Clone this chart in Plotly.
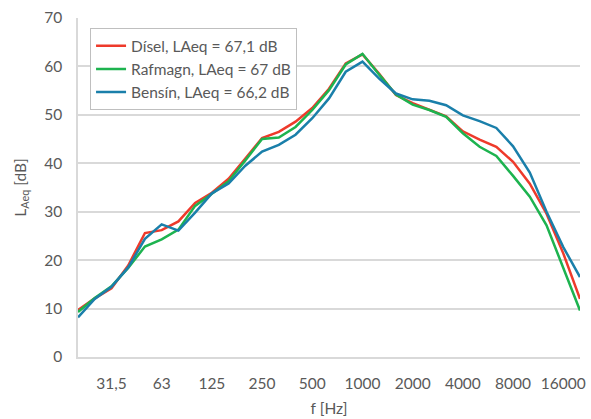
import plotly.graph_objects as go

freqs = ["20", "25", "31,5", "40", "50", "63", "80", "100", "125", "160", "200", "250",
         "315", "400", "500", "630", "800", "1000", "1250", "1600", "2000", "2500",
         "3150", "4000", "5000", "6300", "8000", "10000", "12500", "16000", "20000"]

disel = [9.7, 12.1, 14.2, 18.9, 25.6, 26.2, 28.0, 31.8, 33.9, 36.8, 41.0, 45.2, 46.5, 48.6,
         51.4, 55.4, 60.6, 62.5, 58.5, 54.1, 52.4, 51.0, 49.7, 46.6, 44.9, 43.4, 40.3, 35.8,
         29.6, 21.4, 12.0]
rafmagn = [9.3, 12.2, 14.6, 18.4, 22.8, 24.3, 26.3, 31.2, 33.7, 36.3, 40.6, 45.0, 45.3, 47.5,
           51.0, 55.1, 60.4, 62.6, 58.3, 54.2, 52.1, 51.0, 49.6, 46.2, 43.4, 41.5, 37.4, 33.1,
           27.2, 18.6, 9.6]
bensin = [8.2, 12.0, 14.5, 18.5, 24.4, 27.4, 26.1, 29.8, 33.8, 35.8, 39.5, 42.4, 43.8, 45.9,
          49.3, 53.4, 58.9, 61.0, 57.5, 54.4, 53.2, 52.9, 52.0, 49.9, 48.7, 47.3, 43.5, 38.1,
          30.0, 22.7, 16.5]

series_names = ["Dísel, LAeq = 67,1 dB", "Rafmagn, LAeq = 67 dB", "Bensín, LAeq = 66,2 dB"]
tick_labels = ["31,5", "63", "125", "250", "500", "1000", "2000", "4000", "8000", "16000"]

colors = ["#EE3A2B", "#1DB34F", "#1A7FAA"]
xidx = list(range(len(freqs)))

fig = go.Figure()
for name, vals, c in zip(series_names, [disel, rafmagn, bensin], colors):
    fig.add_trace(go.Scatter(x=xidx, y=vals, mode="lines", name=name,
                             line=dict(color=c, width=2.5),
                             customdata=freqs, hovertemplate="%{customdata} Hz: %{y} dB"))

tickvals = [freqs.index(t) for t in tick_labels]
font_family = "Lato, Carlito, Calibri, 'Open Sans', sans-serif"
fs = 15.5

fig.update_layout(
    width=591, height=419,
    margin=dict(l=78, r=11, t=18, b=62),
    paper_bgcolor="white", plot_bgcolor="white",
    font=dict(family=font_family, size=fs, color="#595959"),
    showlegend=True,
    legend=dict(x=0.024, y=0.97, xanchor="left", yanchor="top",
                bordercolor="#BFBFBF", borderwidth=1, bgcolor="white",
                font=dict(size=fs, color="#595959"), tracegroupgap=0),
    xaxis=dict(range=[0, len(freqs) - 1], tickmode="array", tickvals=tickvals,
               ticktext=tick_labels, showgrid=False, zeroline=False,
               showline=True, linecolor="#D9D9D9", linewidth=1.5,
               ticks="", ticklen=0, ticklabelstandoff=12, automargin=False,
               title=dict(text="f [Hz]", standoff=12, font=dict(size=fs, color="#595959"))),
    yaxis=dict(range=[0, 70], dtick=10, showgrid=True, gridcolor="#D9D9D9", gridwidth=1.5,
               zeroline=False, showline=True, linecolor="#D9D9D9", linewidth=1.5,
               ticks="", ticklen=0, ticklabelstandoff=11, automargin=False,
               title=dict(text="L<sub>Aeq</sub> [dB]", standoff=14,
                          font=dict(size=fs, color="#595959"))),
)

fig.write_html("out.html")
